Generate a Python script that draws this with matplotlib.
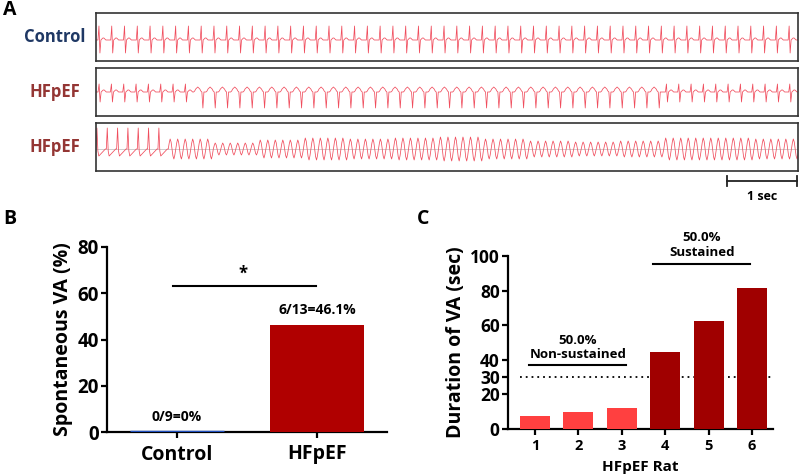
"""Spontaneous VA figure: ECG traces (A), incidence (B), duration per rat (C)."""

import matplotlib

matplotlib.use("Agg")
import matplotlib.pyplot as plt
import numpy as np

W, H = 800, 474

# ---- panel A: ECG beat templates (offsets in px from baseline) and beat counts
CONTROL_BEAT = [0, 0, 0, 14, -13, 0, 1, 2, 2, 1, 0, 0, 0]
CONTROL_BEATS = 55

HF1_SINUS_BEAT = [0, 0, 0, 8, -10, 0, 1, 2, 2, 1, 0, 0]
HF1_VT_BEAT = [1, 3, 4, 5, 4, 3, 1, 0, -16, 0, 0, 0]
HF1_BEATS_BEFORE = 8
HF1_VT_BEATS = 38
HF1_BEATS_AFTER = 11

HF2_SINUS_BEAT = [0, 21, -2, -7, -6, -5, -4, -3, -2, -1, 0]
HF2_SINUS_BEATS = 7
HF2_VT_CYCLE = [0, 0.6, 1, 0.7, 0, -0.7, -1, -0.6]
HF2_VT_AMPLITUDE = [10, 6, 9, 11, 10, 11, 12, 10, 8, 7, 8, 11, 11, 10]
HF2_CYCLES_PER_STEP = 6

# ---- panel B
GROUPS = ["Control", "HFpEF"]
VA_PERCENT = [0.0, 46.1]
VA_LABELS = ["0/9=0%", "6/13=46.1%"]

# ---- panel C
RATS = [1, 2, 3, 4, 5, 6]
DURATION = [7.5, 10.0, 12.0, 44.5, 62.5, 81.5]
THRESHOLD = 30

TRACE_RED = "#f04c5c"
NAVY = "#1f3864"
DARK_RED = "#943634"


def px_axes(fig, x0, y0, x1, y1):
    return fig.add_axes([x0 / W, 1 - y1 / H, (x1 - x0) / W, (y1 - y0) / H])


def tile(template, count, scale=1.0):
    return list(np.array(template, dtype=float) * scale) * count


def trace_axes(fig, y0, y1, signal, baseline, label, color, guide=False):
    ax = px_axes(fig, 96, y0, 798, y1)
    sig = np.asarray(signal, dtype=float)
    ax.plot(np.arange(len(sig)), sig + baseline, color=TRACE_RED, lw=0.55)
    if guide:
        ax.axhline(baseline, color="#bbbbbb", lw=0.5, zorder=0)
    ax.set_xlim(0, len(sig) - 1)
    ax.set_ylim(-(y1 - y0) / 2, (y1 - y0) / 2)
    ax.set_xticks([])
    ax.set_yticks([])
    for s in ax.spines.values():
        s.set_linewidth(1.2)
        s.set_color("#333333")
    fig.text(55 / W, 1 - (y0 + y1) / 2 / H, label, color=color, fontsize=12,
             fontweight="bold", ha="center", va="center")
    return ax


def style_bar_axes(ax, size):
    for side in ("top", "right"):
        ax.spines[side].set_visible(False)
    for side in ("left", "bottom"):
        ax.spines[side].set_linewidth(1.6)
    ax.tick_params(axis="both", width=1.6, length=4, direction="out")
    ax.tick_params(axis="y", labelsize=size, pad=2)


def main():
    fig = plt.figure(figsize=(W / 100, H / 100), dpi=100)

    # panel A
    fig.text(3 / W, 1 - 10 / H, "A", fontsize=14, fontweight="bold", va="center")
    control = tile(CONTROL_BEAT, CONTROL_BEATS)
    trace_axes(fig, 13, 61, control, -3, "Control", NAVY)

    hf1 = (tile(HF1_SINUS_BEAT, HF1_BEATS_BEFORE) + tile(HF1_VT_BEAT, HF1_VT_BEATS)
           + tile(HF1_SINUS_BEAT, HF1_BEATS_AFTER))
    trace_axes(fig, 68, 116, hf1, 0, "HFpEF", DARK_RED)

    hf2 = tile(HF2_SINUS_BEAT, HF2_SINUS_BEATS)
    for amp in HF2_VT_AMPLITUDE:
        hf2 += tile(HF2_VT_CYCLE, HF2_CYCLES_PER_STEP, amp)
    trace_axes(fig, 123, 171, hf2, -2, "HFpEF", DARK_RED, guide=True)

    # 1 sec scale bar
    sy = 1 - 181 / H
    fig.add_artist(plt.Line2D([727 / W, 797 / W], [sy, sy], color="#222222", lw=1.3))
    for xx in (727, 797):
        fig.add_artist(plt.Line2D([xx / W, xx / W], [sy - 5 / H, sy + 5 / H], color="#222222", lw=1.3))
    fig.text(762 / W, 1 - 196 / H, "1 sec", fontsize=9, fontweight="bold", ha="center", va="center")

    # panel B
    fig.text(3 / W, 1 - 219 / H, "B", fontsize=14, fontweight="bold", va="center")
    ax_b = px_axes(fig, 107, 247, 387, 432)
    x = np.arange(len(GROUPS))
    ax_b.bar(x, VA_PERCENT, width=0.67, color=["#1f4fbf", "#b00000"],
             edgecolor=["#1f4fbf", "#b00000"], linewidth=[2.5, 0], zorder=3)
    for xi, val, lab in zip(x, VA_PERCENT, VA_LABELS):
        ax_b.text(xi, val + 6.5, lab, ha="center", va="center", fontsize=10, fontweight="bold")
    ax_b.plot([-0.03, 0.99], [63, 63], color="black", lw=1.5, clip_on=False)
    ax_b.text(0.47, 68.5, "*", ha="center", va="center", fontsize=12, fontweight="bold")
    ax_b.set_xlim(-0.5, 1.5)
    ax_b.set_ylim(0, 80)
    ax_b.set_yticks([0, 20, 40, 60, 80])
    ax_b.set_xticks(x, GROUPS)
    style_bar_axes(ax_b, 13.5)
    ax_b.tick_params(axis="x", labelsize=14, pad=5)
    for t in ax_b.get_xticklabels() + ax_b.get_yticklabels():
        t.set_fontweight("bold")
    ax_b.set_ylabel("Spontaneous VA (%)", fontsize=14, fontweight="bold", labelpad=3)

    # panel C
    fig.text(417 / W, 1 - 219 / H, "C", fontsize=14, fontweight="bold", va="center")
    ax_c = px_axes(fig, 508, 256, 773, 429)
    colors = ["#ff4040"] * 3 + ["#a00000"] * 3
    ax_c.bar(RATS, DURATION, width=0.69, color=colors, zorder=3)
    ax_c.plot([0.65, 6.48], [THRESHOLD, THRESHOLD], color="black", lw=1.3,
              linestyle=(0, (1, 2.2)), clip_on=False)
    ax_c.plot([0.87, 3.1], [37, 37], color="black", lw=1.5)
    ax_c.text(1.99, 51.4, "50.0%", ha="center", va="center", fontsize=9.5, fontweight="bold")
    ax_c.text(1.99, 42.8, "Non-sustained", ha="center", va="center", fontsize=9.5, fontweight="bold")
    ax_c.plot([3.72, 5.95], [95.5, 95.5], color="black", lw=1.5, clip_on=False)
    ax_c.text(4.84, 102, "Sustained", ha="center", va="center", fontsize=9.5,
              fontweight="bold", clip_on=False)
    ax_c.text(4.84, 110.5, "50.0%", ha="center", va="center", fontsize=9.5,
              fontweight="bold", clip_on=False)
    ax_c.set_xlim(0.378, 6.48)
    ax_c.set_ylim(0, 100)
    ax_c.set_yticks([0, 20, 30, 40, 60, 80, 100])
    ax_c.set_xticks(RATS)
    style_bar_axes(ax_c, 12.5)
    ax_c.tick_params(axis="x", labelsize=10.5, pad=3)
    for t in ax_c.get_xticklabels() + ax_c.get_yticklabels():
        t.set_fontweight("bold")
    ax_c.set_ylabel("Duration of VA (sec)", fontsize=14, fontweight="bold", labelpad=3)
    ax_c.set_xlabel("HFpEF Rat", fontsize=11, fontweight="bold", labelpad=5)

    fig.savefig("out.png", dpi=100)
    plt.close(fig)


if __name__ == "__main__":
    plt.rcParams["font.family"] = ["Open Sans", "DejaVu Sans"]
    main()
